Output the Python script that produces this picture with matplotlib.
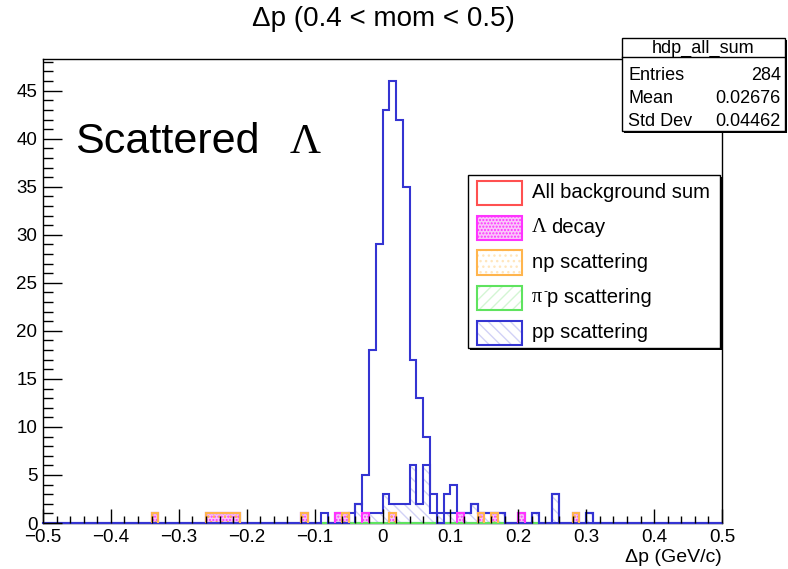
import numpy as np
import matplotlib
matplotlib.use("Agg")
import matplotlib.pyplot as plt
from matplotlib.patches import Rectangle
from matplotlib.ticker import MultipleLocator, FuncFormatter

plt.rcParams['font.family'] = ['Liberation Sans', 'DejaVu Sans']
plt.rcParams['hatch.linewidth'] = 1.0

W, H = 788, 569

# ---------------- binning ----------------
x_min, x_max, n_bins = -0.5, 0.5, 100
edges = np.linspace(x_min, x_max, n_bins + 1)

# ---------------- data (lower bin edge, counts) ----------------
# hdp_all_sum
all_lo = [-0.09, -0.05, -0.04, -0.03, -0.02, -0.01, 0.00, 0.01, 0.02, 0.03,
          0.04, 0.05, 0.06, 0.07, 0.09, 0.10, 0.11, 0.12, 0.13, 0.14,
          0.15, 0.16, 0.17, 0.22, 0.25, 0.30]
all_cnt = [1, 1, 2, 5, 18, 29, 43, 46, 42, 35,
           17, 13, 9, 3, 3, 4, 1, 1, 2, 1,
           1, 1, 1, 1, 3, 1]

# np scattering
np_lo = [-0.34, -0.26, -0.25, -0.24, -0.23, -0.22, -0.12, -0.06, 0.01, 0.14, 0.16, 0.28]
np_cnt = [1, 1, 1, 1, 1, 1, 1, 1, 1, 1, 1, 1]

# Lambda decay
lam_lo = [-0.07, -0.03, 0.11, 0.20]
lam_cnt = [1, 1, 1, 1]

# pi- p scattering (empty)
pim_lo = []
pim_cnt = []
pim_span = (-0.09, 0.23)

# pp scattering
pp_lo = [-0.04, -0.02, -0.01, 0.00, 0.01, 0.02, 0.03, 0.04, 0.05, 0.06,
         0.07, 0.08, 0.09, 0.10, 0.12, 0.13, 0.15, 0.17, 0.22, 0.25, 0.30]
pp_cnt = [2, 1, 1, 3, 1, 2, 2, 6, 2, 6,
          1, 1, 1, 1, 1, 2, 1, 1, 1, 3, 1]

stat_name = "hdp_all_sum"
stat_mean = "0.02676"
stat_std = "0.04462"

title = "\u0394p (0.4 < mom < 0.5)"
xlabel = "\u0394p (GeV/c)"
legend_labels = ["All background sum", "decay", "np scattering", "p scattering", "pp scattering"]


def hist(lo, cnt):
    centers = np.asarray(lo, dtype=float) + 0.5 * (edges[1] - edges[0])
    h, _ = np.histogram(centers, bins=edges, weights=np.asarray(cnt, dtype=float))
    return h


def holes(h):
    h = h.astype(float).copy()
    h[h == 0] = np.nan
    return h


h_all = hist(all_lo, all_cnt)
h_np = hist(np_lo, np_cnt)
h_lam = hist(lam_lo, lam_cnt)
h_pim = hist(pim_lo, pim_cnt)
h_pp = hist(pp_lo, pp_cnt)

# stacked background: np (bottom), pi- p, Lambda decay, pp (top)
c_np = h_np
c_lam = c_np + h_pim + h_lam
c_pp = c_lam + h_pp

BLUE = '#3434d2'
HATCH_BLUE = '#d2d2f6'
MAGENTA = '#ff33ff'
PINK = '#f9c6f9'
ORANGE = '#ffb54d'
GREEN = '#5fe35f'
HATCH_GREEN = '#d4f5d4'
RED = '#ff5050'

fig = plt.figure(figsize=(W / 100, H / 100), dpi=100)
ax = fig.add_axes([43 / W, 1 - 523 / H, 679 / W, 464 / H])
ax.set_xlim(x_min, x_max)
ax.set_ylim(0, 1.05 * h_all.max())

# pp hatch (top of the stack)
ax.stairs(holes(c_pp), edges, fill=True, facecolor='none', edgecolor=HATCH_BLUE,
          hatch='\\\\\\', linewidth=0, zorder=2.0)
# Lambda decay fill
ax.stairs(holes(c_lam), edges, fill=True, facecolor=PINK, edgecolor=MAGENTA,
          hatch='.....', linewidth=0, zorder=2.2)
# np fill
ax.stairs(holes(c_np), edges, fill=True, facecolor='none', edgecolor=ORANGE,
          hatch='...', linewidth=0, zorder=2.3)

# baselines
ax.plot([x_min, x_max], [0, 0], color=BLUE, lw=1.5, zorder=2.6, clip_on=False)
span_mask = (edges >= pim_span[0] - 1e-9) & (edges <= pim_span[1] + 1e-9)
ax.stairs(h_pim[span_mask[:-1] & span_mask[1:]], edges[span_mask],
          color=GREEN, lw=1.5, zorder=2.7, clip_on=False)

# hdp_all_sum outline
ax.stairs(h_all, edges, color=BLUE, lw=1.5, zorder=2.8, clip_on=False)
# pp (stack top) outline
ax.stairs(holes(c_pp), edges, color=BLUE, lw=1.5, zorder=2.9)
# Lambda decay outline
ax.stairs(holes(c_lam), edges, color=MAGENTA, lw=1.5, zorder=3.0)
# np outline
ax.stairs(holes(c_np), edges, color=ORANGE, lw=1.5, zorder=3.1)

# axes styling
for s in ax.spines.values():
    s.set_linewidth(1.0)
    s.set_zorder(2.5)
ax.xaxis.set_major_locator(MultipleLocator(0.1))
ax.xaxis.set_minor_locator(MultipleLocator(0.02))
ax.yaxis.set_major_locator(MultipleLocator(5))
ax.yaxis.set_minor_locator(MultipleLocator(1))
ax.xaxis.set_major_formatter(FuncFormatter(lambda v, p: f"{round(v, 3):g}".replace('-', '\u2212')))
ax.yaxis.set_major_formatter(FuncFormatter(lambda v, p: f"{v:g}"))
ax.tick_params(axis='x', which='major', direction='in', length=10, width=1.0, labelsize=13.5, pad=4)
ax.tick_params(axis='x', which='minor', direction='in', length=5, width=1.0)
ax.tick_params(axis='y', which='major', direction='in', length=13.5, width=1.0, labelsize=13.5, pad=4)
ax.tick_params(axis='y', which='minor', direction='in', length=7, width=1.0)
ax.xaxis.set_zorder(5)
ax.yaxis.set_zorder(5)


def px(x, y):
    return x / W, 1 - y / H


# title and axis label
fig.text(*px(383, 19), title, ha='center', va='center', fontsize=20)
fig.text(*px(722, 557), xlabel, ha='right', va='center', fontsize=14)

# annotation
fig.text(*px(75, 153), "Scattered", ha='left', va='baseline', fontsize=31)
fig.text(*px(290, 153), "\u039b", ha='left', va='baseline', fontsize=31,
         family=['Liberation Serif', 'DejaVu Serif'])


def framed_box(x0, y0, x1, y1, shadow=2):
    fx0, fy1 = px(x0, y0)
    fx1, fy0 = px(x1, y1)
    sh = Rectangle((fx0 + shadow / W, fy0 - shadow / H), fx1 - fx0, fy1 - fy0,
                   transform=fig.transFigure, facecolor='black', edgecolor='black',
                   lw=0, zorder=10)
    fig.add_artist(sh)
    bx = Rectangle((fx0, fy0), fx1 - fx0, fy1 - fy0, transform=fig.transFigure,
                   facecolor='white', edgecolor='black', lw=1.0, zorder=11)
    fig.add_artist(bx)


# statistics box
framed_box(622, 38, 785, 131)
fig.add_artist(plt.Line2D([622 / W, 785 / W], [1 - 57 / H, 1 - 57 / H],
                          transform=fig.transFigure, color='black', lw=1.0, zorder=12))
fig.text(*px(703, 48), stat_name, ha='center', va='center', fontsize=13, zorder=13)
rows = [("Entries", f"{int(h_all.sum())}"), ("Mean", stat_mean), ("Std Dev", stat_std)]
for i, (k, v) in enumerate(rows):
    y = 75 + i * 23.3
    fig.text(*px(628, y), k, ha='left', va='center', fontsize=13, zorder=13)
    fig.text(*px(781, y), v, ha='right', va='center', fontsize=13, zorder=13)

# legend
framed_box(468, 175, 720, 348)
row_y = [192.7, 227.7, 262.5, 297.7, 332.5]
sym = [
    dict(facecolor='white', edgecolor=RED, hatch=None, hcol=None),
    dict(facecolor=PINK, edgecolor=MAGENTA, hatch='.....', hcol=MAGENTA),
    dict(facecolor='white', edgecolor=ORANGE, hatch='...', hcol='#ffe6bd'),
    dict(facecolor='white', edgecolor=GREEN, hatch='///', hcol=HATCH_GREEN),
    dict(facecolor='white', edgecolor=BLUE, hatch='\\\\\\', hcol=HATCH_BLUE),
]
for y, s in zip(row_y, sym):
    fx0, fy1 = px(477, y - 12)
    fx1, fy0 = px(522, y + 12)
    if s['hatch']:
        fig.add_artist(Rectangle((fx0, fy0), fx1 - fx0, fy1 - fy0, transform=fig.transFigure,
                                 facecolor=s['facecolor'], edgecolor=s['hcol'],
                                 hatch=s['hatch'], lw=0, zorder=12))
    fig.add_artist(Rectangle((fx0, fy0), fx1 - fx0, fy1 - fy0, transform=fig.transFigure,
                             facecolor='none', edgecolor=s['edgecolor'], lw=1.5, zorder=13))

fs_leg = 14.6
fig.text(*px(532, row_y[0]), legend_labels[0], ha='left', va='center', fontsize=fs_leg, zorder=14)
fig.text(*px(532, row_y[1]), "\u039b", ha='left', va='center', fontsize=fs_leg, zorder=14,
         family=['Liberation Serif', 'DejaVu Serif'])
fig.text(*px(551, row_y[1]), legend_labels[1], ha='left', va='center', fontsize=fs_leg, zorder=14)
fig.text(*px(532, row_y[2]), legend_labels[2], ha='left', va='center', fontsize=fs_leg, zorder=14)
fig.text(*px(532, row_y[3]), "\u03c0", ha='left', va='center', fontsize=fs_leg, zorder=14,
         family=['Liberation Serif', 'DejaVu Serif'])
fig.text(*px(543.5, row_y[3] - 6), "-", ha='left', va='center', fontsize=9, zorder=14)
fig.text(*px(547, row_y[3]), legend_labels[3], ha='left', va='center', fontsize=fs_leg, zorder=14)
fig.text(*px(532, row_y[4]), legend_labels[4], ha='left', va='center', fontsize=fs_leg, zorder=14)

fig.savefig("out.png", dpi=100)
